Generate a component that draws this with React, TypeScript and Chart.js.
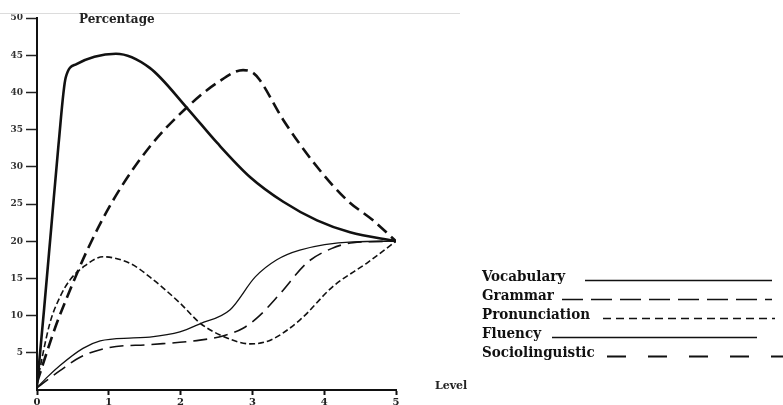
import React, { useEffect, useRef } from "react";
import { Chart, registerables } from "chart.js";

Chart.register(...registerables);

const levelTicks = [0, 1, 2, 3, 4, 5];
const percentTicks = [5, 10, 15, 20, 25, 30, 35, 40, 45, 50];

const seriesNames = ["Vocabulary", "Grammar", "Pronunciation", "Fluency", "Sociolinguistic"];

const vocabularyX = [0, 0.1, 0.2, 0.3, 0.4, 0.55, 0.8, 1.1, 1.57, 2.09, 2.51, 2.97, 3.43, 3.9, 4.36, 5];
const vocabularyY = [0.5, 11, 22, 33, 42, 43.8, 44.8, 45.2, 43.3, 37.9, 33.2, 28.6, 25.3, 22.8, 21.2, 20];

const grammarX = [0, 0.25, 0.42, 0.7, 1.06, 1.57, 2.09, 2.51, 2.87, 3.0, 3.1, 3.43, 3.9, 4.32, 4.68, 5];
const grammarY = [1, 8.3, 12.5, 18.8, 25.5, 32.7, 38, 41.3, 43, 42.7, 41.7, 36.3, 30, 25.5, 22.8, 20];

const pronunciationX = [0, 0.18, 0.32, 0.46, 0.64, 0.92, 1.3, 1.57, 1.99, 2.27, 2.55, 2.97, 3.25, 3.66, 4.12, 4.6, 5];
const pronunciationY = [1, 9, 12.5, 14.8, 16.5, 17.9, 17, 15.2, 11.7, 9, 7.4, 6.2, 6.7, 9.4, 13.9, 17.1, 20];

const fluencyX = [0, 0.15, 0.32, 0.64, 0.88, 1.34, 1.57, 1.99, 2.27, 2.69, 3.04, 3.34, 3.66, 4.4, 5];
const fluencyY = [0.3, 1.8, 3.3, 5.6, 6.6, 7.0, 7.1, 7.8, 8.9, 10.8, 15.2, 17.5, 18.8, 19.9, 20];

const socioX = [0, 0.15, 0.32, 0.6, 1.0, 1.57, 2.27, 2.6, 2.87, 3.1, 3.39, 3.76, 4.1, 4.4, 5];
const socioY = [0.3, 1.4, 2.6, 4.4, 5.7, 6.1, 6.7, 7.3, 8.3, 10, 13, 17.1, 19, 19.8, 20];

const styles = [
  { width: 2.6, dash: [] as number[] },
  { width: 2.6, dash: [12, 6] },
  { width: 1.6, dash: [6, 3] },
  { width: 1.3, dash: [] as number[] },
  { width: 1.6, dash: [14, 7] },
];

const legendStyles = [
  { x0: 585, x1: 772, dash: [] as number[], width: 1.6 },
  { x0: 562, x1: 772, dash: [21, 8], width: 1.6 },
  { x0: 603, x1: 775, dash: [8, 5], width: 1.6 },
  { x0: 552, x1: 757, dash: [] as number[], width: 1.6 },
  { x0: 607, x1: 783, dash: [19, 22], width: 1.8 },
];

const toPoints = (xs: number[], ys: number[]) => xs.map((x, i) => ({ x, y: ys[i] }));

const textPlugin = {
  id: "textPlugin",
  afterDraw(chart: any) {
    const ctx = chart.ctx;
    ctx.save();
    ctx.strokeStyle = "#dcdcdc";
    ctx.lineWidth = 1;
    ctx.beginPath();
    ctx.moveTo(0, 13.5);
    ctx.lineTo(460, 13.5);
    ctx.stroke();

    ctx.fillStyle = "#222";
    ctx.font = "bold 12px 'DejaVu Serif'";
    ctx.textBaseline = "alphabetic";
    ctx.fillText("Percentage", 79, 23);
    ctx.font = "bold 11px 'DejaVu Serif'";
    ctx.fillText("Level", 435, 389);

    ctx.font = "bold 15px 'DejaVu Serif Condensed', 'DejaVu Serif'";
    ctx.fillStyle = "#111";
    const rows = [281, 300, 319, 338, 357];
    seriesNames.forEach((name, i) => {
      ctx.fillText(name, 482, rows[i]);
      const st = legendStyles[i];
      ctx.strokeStyle = "#111";
      ctx.lineWidth = st.width;
      ctx.setLineDash(st.dash);
      ctx.beginPath();
      ctx.moveTo(st.x0, rows[i] - 0.5);
      ctx.lineTo(st.x1, rows[i] - 0.5);
      ctx.stroke();
    });
    ctx.setLineDash([]);
    ctx.restore();
  },
};

export default function App() {
  const ref = useRef<HTMLCanvasElement>(null);
  useEffect(() => {
    if (!ref.current) return;
    const data = [
      toPoints(vocabularyX, vocabularyY),
      toPoints(grammarX, grammarY),
      toPoints(pronunciationX, pronunciationY),
      toPoints(fluencyX, fluencyY),
      toPoints(socioX, socioY),
    ];
    const chart = new Chart(ref.current, {
      type: "line",
      data: {
        datasets: seriesNames.map((name, i) => ({
          label: name,
          data: data[i],
          borderColor: "#111",
          borderWidth: styles[i].width,
          borderDash: styles[i].dash,
          pointRadius: 0,
          fill: false,
          cubicInterpolationMode: "monotone" as const,
        })),
      },
      options: {
        responsive: false,
        animation: false,
        layout: { padding: { top: 18, right: 387, left: 0, bottom: 0 } },
        plugins: { legend: { display: false }, tooltip: { enabled: false } },
        scales: {
          x: {
            type: "linear",
            min: 0,
            max: 5,
            afterFit: (s: any) => { s.height = 15; },
            afterBuildTicks: (s: any) => { s.ticks = levelTicks.map((v) => ({ value: v })); },
            ticks: { color: "#222", font: { size: 10, weight: "bold", family: "'DejaVu Serif'" }, padding: 1 },
            grid: { drawOnChartArea: false, tickLength: 5, color: "#111", tickWidth: 2 },
            border: { color: "#111", width: 2 },
          },
          y: {
            min: 0,
            max: 50,
            afterFit: (s: any) => { s.width = 37; },
            afterBuildTicks: (s: any) => { s.ticks = percentTicks.map((v) => ({ value: v })); },
            ticks: { color: "#333", font: { size: 9, weight: "bold", family: "'DejaVu Serif'" }, padding: 3 },
            grid: { drawOnChartArea: false, tickLength: 11, color: "#222", tickWidth: 1.5 },
            border: { color: "#111", width: 2 },
          },
        },
      },
      plugins: [textPlugin],
    });
    return () => chart.destroy();
  }, []);
  return (
    <div style={{ position: "fixed", left: 0, top: 0, width: 783, height: 405, background: "#fff" }}>
      <canvas ref={ref} width={783} height={405} style={{ display: "block" }} />
    </div>
  );
}
